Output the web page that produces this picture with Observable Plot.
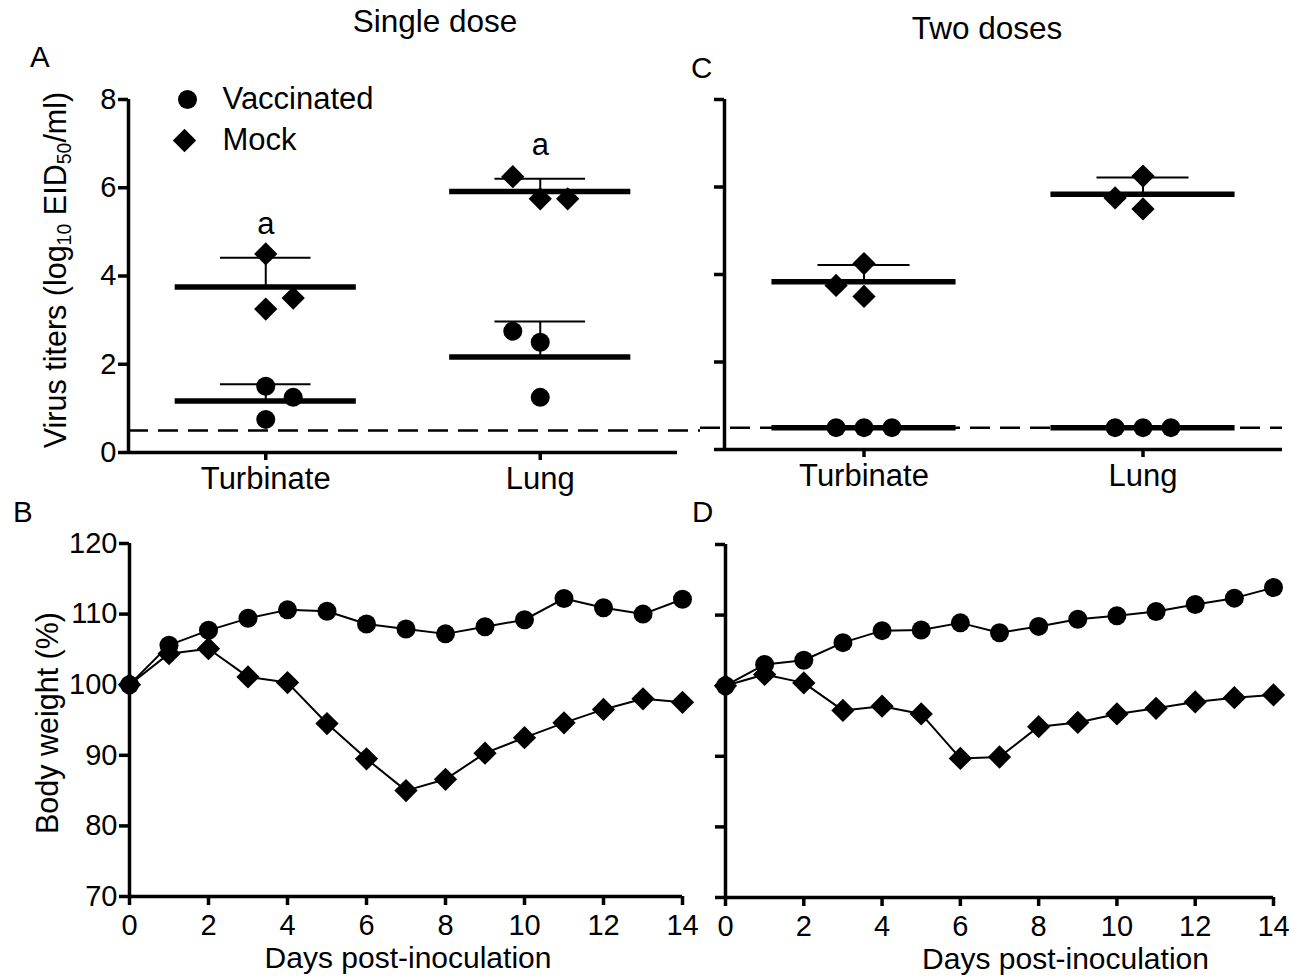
<!DOCTYPE html>
<html>
<head>
<meta charset="utf-8">
<script src="https://cdn.jsdelivr.net/npm/d3@7"></script>
<script src="https://cdn.jsdelivr.net/npm/@observablehq/plot@0.6"></script>
<style>
  html, body { margin: 0; padding: 0; background: #fff; }
  #chart { position: relative; width: 1295px; height: 978px; background: #fff; overflow: hidden;
           font-family: "Liberation Sans", Arial, Helvetica, sans-serif; color: #000; }
  #chart .panel { position: absolute; }
  #chart .txt { position: absolute; line-height: 1; white-space: nowrap; }
  #chart .ylab { position: absolute; line-height: 1; white-space: nowrap; font-size: 30.5px;
                 transform: translate(-50%, -50%) rotate(-90deg); }
  #chart sub { font-size: 0.64em; vertical-align: -0.28em; line-height: 0; }
</style>
</head>
<body>
<div id="chart"></div>
<script>
// ---------------- DATA ----------------
const tissues = ["Turbinate", "Lung"];
const groups = ["Vaccinated", "Mock"];
const detectionLimit = 0.5;           // dashed line, log10 EID50/ml
const titerTicks = [0, 2, 4, 6, 8];

// Panel A: single dose, virus titers per animal (log10 EID50/ml)
const singleTurbVacc = [1.5, 0.75, 1.25];
const singleTurbMock = [4.5, 3.25, 3.5];
const singleLungVacc = [2.75, 2.5, 1.25];
const singleLungMock = [6.25, 5.75, 5.75];
// horizontal scatter slot of each animal (-1 left, 0 centre, 1 right)
const singleTurbVaccSlot = [0, 0, 1];
const singleTurbMockSlot = [0, 0, 1];
const singleLungVaccSlot = [-1, 0, 0];
const singleLungMockSlot = [-1, 0, 1];
const singleSigLabels = ["a", "a"];   // above Mock in Turbinate, Lung

// Panel C: two doses
const twoTurbVacc = [0.5, 0.5, 0.5];
const twoTurbMock = [4.25, 3.75, 3.5];
const twoLungVacc = [0.5, 0.5, 0.5];
const twoLungMock = [6.25, 5.75, 5.5];
const twoTurbVaccSlot = [-1, 0, 1];
const twoTurbMockSlot = [0, -1, 0];
const twoLungVaccSlot = [-1, 0, 1];
const twoLungMockSlot = [0, -1, 0];

// Panels B and D: body weight (%) by day post-inoculation
const days = [0, 1, 2, 3, 4, 5, 6, 7, 8, 9, 10, 11, 12, 13, 14];
const weightTicks = [70, 80, 90, 100, 110, 120];
const dayTicks = [0, 2, 4, 6, 8, 10, 12, 14];
const singleWeightVacc = [100, 105.6, 107.7, 109.4, 110.6, 110.4, 108.6, 107.9, 107.2, 108.2, 109.2, 112.2, 110.9, 110.0, 112.1];
const singleWeightMock = [100, 104.4, 105.1, 101.1, 100.3, 94.5, 89.5, 85.0, 86.6, 90.3, 92.5, 94.6, 96.5, 98.0, 97.5];
const twoWeightVacc = [100, 103.0, 103.6, 106.1, 107.8, 107.9, 108.9, 107.5, 108.4, 109.4, 109.9, 110.5, 111.5, 112.4, 113.9];
const twoWeightMock = [100, 101.6, 100.4, 96.5, 97.1, 96.0, 89.7, 89.9, 94.2, 94.8, 96.0, 96.8, 97.7, 98.3, 98.7];

// ---------------- helpers ----------------
const FONT = '"Liberation Sans", Arial, Helvetica, sans-serif';
const TICK_FS = 29;     // numeric tick labels
const LABEL_FS = 31;    // category labels, legend, axis titles
const AXIS_W = 3.5;

function titerRows(spec) {
  const rows = [];
  for (const [tissue, group, values, slots] of spec) {
    values.forEach((v, i) => rows.push({tissue, group, pos: tissues.indexOf(tissue) + 1, value: v, slot: slots[i]}));
  }
  return rows;
}
function titerSummary(rows) {
  const out = [];
  for (const tissue of tissues) for (const group of groups) {
    const vs = rows.filter(d => d.tissue === tissue && d.group === group).map(d => d.value);
    const mean = d3.mean(vs), sd = d3.deviation(vs) || 0;
    out.push({tissue, group, pos: tissues.indexOf(tissue) + 1, mean, sd, upper: mean + sd});
  }
  return out;
}

function titerPanel(rows, {width, height, marginLeft, marginRight, marginTop, marginBottom,
                           showYLabels, legend, sig, dashInsetLeft, dashInsetRight}) {
  const summary = titerSummary(rows);
  const halfBar = 0.33, halfCap = 0.165, jitter = 0.1;
  const marks = [
    Plot.ruleY([detectionLimit], {stroke: "black", strokeWidth: 2.5, strokeDasharray: "20,10",
      insetLeft: dashInsetLeft, insetRight: dashInsetRight}),
    Plot.axisY({ticks: titerTicks, tickSize: 10, tickPadding: 2, strokeWidth: AXIS_W, fontSize: TICK_FS,
      label: null, tickFormat: showYLabels ? d => d : () => ""}),
    Plot.axisX({ticks: [1, 2], tickFormat: i => tissues[i - 1], tickSize: 8, tickPadding: 6,
      strokeWidth: AXIS_W, fontSize: LABEL_FS, label: null}),
    Plot.ruleX([0.5], {stroke: "black", strokeWidth: AXIS_W}),
    Plot.ruleY([0], {stroke: "black", strokeWidth: AXIS_W}),
    // mean bars
    Plot.ruleY(summary, {y: "mean", x1: d => d.pos - halfBar, x2: d => d.pos + halfBar, stroke: "black", strokeWidth: 5.5}),
    // SD (upper only)
    Plot.ruleX(summary.filter(d => d.sd > 0), {x: "pos", y1: "mean", y2: "upper", stroke: "black", strokeWidth: 2}),
    Plot.ruleY(summary.filter(d => d.sd > 0), {y: "upper", x1: d => d.pos - halfCap, x2: d => d.pos + halfCap, stroke: "black", strokeWidth: 2}),
    // individual animals
    Plot.dot(rows.filter(d => d.group === "Vaccinated"), {x: d => d.pos + d.slot * jitter, y: "value",
      symbol: "circle", r: 9.5, fill: "black", stroke: "none"}),
    Plot.dot(rows.filter(d => d.group === "Mock"), {x: d => d.pos + d.slot * jitter, y: "value",
      symbol: "diamond2", r: 10.5, fill: "black", stroke: "none"})
  ];
  if (sig) {
    const mocks = summary.filter(d => d.group === "Mock");
    marks.push(Plot.text(mocks, {x: "pos", y: "upper", text: (d, i) => sig[i], dy: -34,
      fontSize: LABEL_FS, fill: "black", lineAnchor: "middle"}));
  }
  if (legend) {
    marks.push(
      Plot.dot([groups[0]], {x: null, y: null, frameAnchor: "top-left", dx: 59, dy: 0, symbol: "circle", r: 9.5, fill: "black"}),
      Plot.dot([groups[1]], {x: null, y: null, frameAnchor: "top-left", dx: 56, dy: 41, symbol: "diamond2", r: 10.5, fill: "black"}),
      Plot.text([groups[0]], {x: null, y: null, frameAnchor: "top-left", dx: 94, dy: 0, text: d => d,
        textAnchor: "start", lineAnchor: "middle", fontSize: LABEL_FS, fill: "black"}),
      Plot.text([groups[1]], {x: null, y: null, frameAnchor: "top-left", dx: 94, dy: 41, text: d => d,
        textAnchor: "start", lineAnchor: "middle", fontSize: LABEL_FS, fill: "black"})
    );
  }
  return Plot.plot({
    width, height, marginLeft, marginRight, marginTop, marginBottom,
    x: {domain: [0.5, 2.5]},
    y: {domain: [0, 8]},
    style: {fontFamily: FONT, fontSize: TICK_FS + "px", color: "black", background: "transparent", overflow: "visible"},
    marks
  });
}

function weightPanel(vacc, mock, {width, height, marginLeft, marginRight, marginTop, marginBottom, showYLabels, labelDx}) {
  const rowsV = days.map((d, i) => ({day: d, w: vacc[i]}));
  const rowsM = days.map((d, i) => ({day: d, w: mock[i]}));
  return Plot.plot({
    width, height, marginLeft, marginRight, marginTop, marginBottom,
    x: {domain: [0, 14]},
    y: {domain: [70, 120]},
    style: {fontFamily: FONT, fontSize: TICK_FS + "px", color: "black", background: "transparent", overflow: "visible"},
    marks: [
      Plot.axisY({ticks: weightTicks, tickSize: 10, tickPadding: 2, strokeWidth: AXIS_W, fontSize: TICK_FS,
        label: null, tickFormat: showYLabels ? d => d : () => ""}),
      Plot.axisX({ticks: dayTicks, tickSize: 9, tickPadding: 9, strokeWidth: AXIS_W, fontSize: TICK_FS, label: null}),
      Plot.ruleX([0], {stroke: "black", strokeWidth: AXIS_W}),
      Plot.ruleY([70], {stroke: "black", strokeWidth: AXIS_W}),
      Plot.line(rowsM, {x: "day", y: "w", stroke: "black", strokeWidth: 2}),
      Plot.line(rowsV, {x: "day", y: "w", stroke: "black", strokeWidth: 2}),
      Plot.dot(rowsV, {x: "day", y: "w", symbol: "circle", r: 9.5, fill: "black", stroke: "none"}),
      Plot.dot(rowsM, {x: "day", y: "w", symbol: "diamond2", r: 10.5, fill: "black", stroke: "none"}),
      Plot.text(["Days post-inoculation"], {frameAnchor: "bottom", x: null, y: null, text: d => d, dx: labelDx, dy: 62,
        lineAnchor: "middle", fontSize: 30, fill: "black"})
    ]
  });
}

// ---------------- build ----------------
const chart = document.getElementById("chart");
function place(node, left, top) {
  const wrap = document.createElement("div");
  wrap.className = "panel";
  wrap.style.left = left + "px";
  wrap.style.top = top + "px";
  wrap.appendChild(node);
  chart.appendChild(wrap);
}
function addText(html, left, top, size, center) {
  const el = document.createElement("div");
  el.className = "txt";
  el.innerHTML = html;
  el.style.left = left + "px";
  el.style.top = top + "px";
  el.style.fontSize = size + "px";
  if (center) el.style.transform = "translateX(-50%)";
  chart.appendChild(el);
}
function addYLabel(html, cx, cy) {
  const el = document.createElement("div");
  el.className = "ylab";
  el.innerHTML = html;
  el.style.left = cx + "px";
  el.style.top = cy + "px";
  chart.appendChild(el);
}

const singleRows = titerRows([
  ["Turbinate", "Vaccinated", singleTurbVacc, singleTurbVaccSlot],
  ["Turbinate", "Mock", singleTurbMock, singleTurbMockSlot],
  ["Lung", "Vaccinated", singleLungVacc, singleLungVaccSlot],
  ["Lung", "Mock", singleLungMock, singleLungMockSlot]
]);
const twoRows = titerRows([
  ["Turbinate", "Vaccinated", twoTurbVacc, twoTurbVaccSlot],
  ["Turbinate", "Mock", twoTurbMock, twoTurbMockSlot],
  ["Lung", "Vaccinated", twoLungVacc, twoLungVaccSlot],
  ["Lung", "Mock", twoLungMock, twoLungMockSlot]
]);

place(titerPanel(singleRows, {width: 700, height: 440, marginLeft: 128, marginRight: 23, marginTop: 39, marginBottom: 48,
  showYLabels: true, legend: true, sig: singleSigLabels, dashInsetLeft: 0, dashInsetRight: -23}), 0, 60);
place(titerPanel(twoRows, {width: 595, height: 440, marginLeft: 24, marginRight: 13, marginTop: 39, marginBottom: 51,
  showYLabels: false, legend: false, sig: null, dashInsetLeft: -24, dashInsetRight: 0}), 700, 60);
place(weightPanel(singleWeightVacc, singleWeightMock, {width: 700, height: 478, marginLeft: 129, marginRight: 18,
  marginTop: 43, marginBottom: 82, showYLabels: true, labelDx: 2}), 0, 500);
place(weightPanel(twoWeightVacc, twoWeightMock, {width: 595, height: 478, marginLeft: 25, marginRight: 22,
  marginTop: 44, marginBottom: 81, showYLabels: false, labelDx: 66}), 700, 500);

// titles, panel letters, y-axis titles
addText("Single dose", 435, 6, 31.5, true);
addText("Two doses", 987, 13, 31.5, true);
addText("A", 30, 42, 29.5, false);
addText("C", 691, 53, 29.5, false);
addText("B", 13, 497, 29.5, false);
addText("D", 692, 497, 29.5, false);
addYLabel("Virus titers (log<sub>10</sub> EID<sub>50</sub>/ml)", 55, 270);
addYLabel("Body weight (%)", 47, 723);
</script>
</body>
</html>
